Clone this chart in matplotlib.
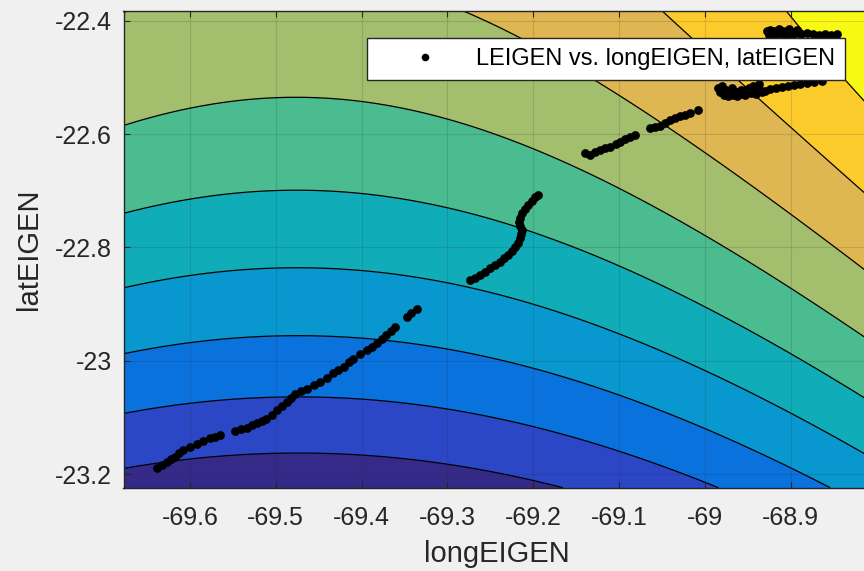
import numpy as np
import matplotlib
matplotlib.use("Agg")
import matplotlib.pyplot as plt
from matplotlib.lines import Line2D

plt.rcParams["font.family"] = ["Liberation Sans", "DejaVu Sans"]
plt.rcParams["axes.unicode_minus"] = False

# poly22 surface LEIGEN(long, lat) in normalised coordinates
# u = (long - c_long) / s_long, v = (lat - c_lat) / s_lat
fit_center = (-69.25, -22.8)
fit_scale = (0.45, 0.42)
# terms: 1, u, v, u^2, u*v, v^2
fit_coef = [4.6280, 1.4033, 3.1864, 1.4021, 0.0117, -0.7101]
contour_levels = [1, 2, 3, 4, 5, 6, 7, 8, 9]
band_colors = ["#352a87", "#2b47c5", "#0a72dc", "#0997cf", "#10adb8",
               "#4abc8f", "#a3be6c", "#deb652", "#fbcb2c", "#f9fa14"]

# measured track points
long_eigen = [
    -69.639, -69.633, -69.627, -69.622, -69.618, -69.613, -69.608, -69.600,
    -69.592, -69.585, -69.577, -69.571, -69.565, -69.548, -69.541, -69.534,
    -69.528, -69.522, -69.516, -69.511, -69.505, -69.499, -69.493, -69.487,
    -69.482, -69.478, -69.471, -69.464, -69.456, -69.448, -69.440, -69.433,
    -69.427, -69.421, -69.415, -69.410, -69.402, -69.394, -69.388, -69.382,
    -69.376, -69.371, -69.366, -69.361, -69.347, -69.342, -69.336,
    -69.274, -69.268, -69.262, -69.256, -69.250, -69.245, -69.239, -69.234,
    -69.229, -69.225, -69.221, -69.218, -69.215, -69.214, -69.213, -69.215,
    -69.217, -69.215, -69.213, -69.210, -69.206, -69.202, -69.198, -69.194,
    -69.140, -69.134, -69.128, -69.122, -69.116, -69.110, -69.104, -69.099,
    -69.093, -69.087, -69.081, -69.064, -69.058, -69.052, -69.046, -69.041,
    -69.035, -69.029, -69.023, -69.017, -69.008,
    -68.985, -68.982, -68.978, -68.973, -68.967, -68.962, -68.958, -68.953,
    -68.950, -68.946, -68.958, -68.948, -68.942, -68.936, -68.930, -68.924,
    -68.917, -68.910, -68.903, -68.896, -68.889, -68.881, -68.873, -68.864,
    -68.944, -68.937, -68.980, -68.975, -68.968, -68.963, -68.953, -68.940,
    -68.933,
    -68.928, -68.924, -68.919, -68.914, -68.909, -68.905, -68.900, -68.894,
    -68.888, -68.881, -68.874, -68.867, -68.860, -68.853, -68.846,
    -68.925, -68.918, -68.909, -68.900, -68.913, -68.902, -68.893,
]
lat_eigen = [
    -23.190, -23.184, -23.178, -23.173, -23.169, -23.163, -23.158, -23.152,
    -23.146, -23.141, -23.137, -23.134, -23.131, -23.124, -23.121, -23.119,
    -23.114, -23.110, -23.106, -23.102, -23.095, -23.087, -23.080, -23.072,
    -23.065, -23.058, -23.053, -23.049, -23.043, -23.037, -23.030, -23.022,
    -23.016, -23.011, -23.003, -22.996, -22.988, -22.981, -22.975, -22.969,
    -22.962, -22.955, -22.948, -22.941, -22.922, -22.915, -22.908,
    -22.858, -22.854, -22.849, -22.843, -22.837, -22.831, -22.825, -22.819,
    -22.813, -22.806, -22.799, -22.792, -22.784, -22.776, -22.769, -22.762,
    -22.755, -22.748, -22.740, -22.733, -22.725, -22.718, -22.711, -22.708,
    -22.634, -22.637, -22.632, -22.628, -22.625, -22.622, -22.618, -22.614,
    -22.609, -22.605, -22.601, -22.590, -22.588, -22.586, -22.580, -22.575,
    -22.571, -22.568, -22.566, -22.563, -22.558,
    -22.519, -22.526, -22.531, -22.533, -22.531, -22.533, -22.529, -22.531,
    -22.526, -22.528, -22.522, -22.519, -22.524, -22.522, -22.524, -22.520,
    -22.519, -22.517, -22.515, -22.513, -22.512, -22.510, -22.508, -22.506,
    -22.515, -22.512, -22.515, -22.522, -22.519, -22.526, -22.522, -22.529,
    -22.526,
    -22.418, -22.416, -22.418, -22.420, -22.418, -22.421, -22.420, -22.422,
    -22.423, -22.422, -22.424, -22.425, -22.424, -22.425, -22.424,
    -22.425, -22.427, -22.425, -22.427, -22.415, -22.415, -22.416,
]

x_ticks = [-69.6, -69.5, -69.4, -69.3, -69.2, -69.1, -69.0, -68.9]
x_tick_labels = ["-69.6", "-69.5", "-69.4", "-69.3", "-69.2", "-69.1", "-69", "-68.9"]
y_ticks = [-23.2, -23.0, -22.8, -22.6, -22.4]
y_tick_labels = ["-23.2", "-23", "-22.8", "-22.6", "-22.4"]

W, H = 864, 571
ink = "#262626"
fig = plt.figure(figsize=(W / 100, H / 100), dpi=100, facecolor="#f0f0f0")
ax = fig.add_axes([123.5 / W, (H - 487.7) / H, (870 - 123.5) / W, (487.7 - 10.7) / H])

xlim = (-69.6775, -68.8075)
ylim = (-23.2239, -22.3824)
gx = np.linspace(xlim[0], xlim[1], 400)
gy = np.linspace(ylim[0], ylim[1], 400)
GX, GY = np.meshgrid(gx, gy)
u = (GX - fit_center[0]) / fit_scale[0]
v = (GY - fit_center[1]) / fit_scale[1]
c = fit_coef
Z = c[0] + c[1] * u + c[2] * v + c[3] * u ** 2 + c[4] * u * v + c[5] * v ** 2

bounds = [Z.min() - 1] + contour_levels + [Z.max() + 1]
ax.contourf(GX, GY, Z, levels=bounds, colors=band_colors, zorder=1)
ax.contour(GX, GY, Z, levels=contour_levels, colors="k", linewidths=0.9, zorder=1.5)

ax.plot(long_eigen, lat_eigen, linestyle="none", marker="o", ms=6.3,
        mfc="k", mec="k", mew=0, zorder=2)

ax.set_xlim(xlim)
ax.set_ylim(ylim)
ax.set_xticks(x_ticks)
ax.set_xticklabels(x_tick_labels)
ax.set_yticks(y_ticks)
ax.set_yticklabels(y_tick_labels)
ax.tick_params(direction="in", length=4.5, width=0.8, colors=ink,
               labelsize=18, top=True, right=True)
ax.tick_params(axis="x", pad=13.5)
ax.tick_params(axis="y", pad=8.5)
ax.set_axisbelow(False)
ax.grid(True, color=ink, alpha=0.15, linewidth=0.8)
for s in ax.spines.values():
    s.set_color(ink)
    s.set_linewidth(1.0)

ax.set_xlabel("longEIGEN", fontsize=21, color=ink)
ax.set_ylabel("latEIGEN", fontsize=21, color=ink)
ax.xaxis.set_label_coords(0.5, -0.11)
ax.yaxis.set_label_coords(-0.108, 0.5)

handle = Line2D([], [], linestyle="none", marker="o", ms=5.5, mfc="k", mec="k", mew=0)
leg = ax.legend([handle], ["LEIGEN vs. longEIGEN, latEIGEN"], loc="upper right",
                bbox_to_anchor=(845 / W, 1 - 38.3 / H), bbox_transform=fig.transFigure,
                borderaxespad=0, fancybox=False, framealpha=1, edgecolor=ink,
                fontsize=17, handlelength=4.1, handletextpad=0.1, borderpad=0.42,
                numpoints=1)
leg.get_frame().set_linewidth(1.0)
leg.set_zorder(5)

fig.savefig("out.png", dpi=100, facecolor=fig.get_facecolor())
